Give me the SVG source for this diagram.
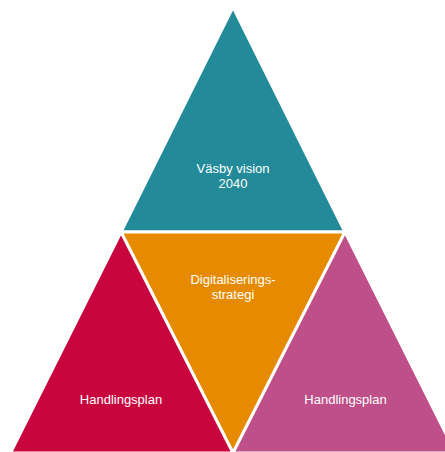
<svg xmlns="http://www.w3.org/2000/svg" width="445" height="452" viewBox="0 0 445 452">
<style>
.tri{stroke:#FFFFFF;stroke-width:3;stroke-linejoin:miter}
.lbl{font-family:"Liberation Sans",Arial,sans-serif;font-size:13px;fill:#FFFFFF;text-anchor:middle}
</style>
<rect x="0" y="0" width="445" height="452" fill="#FFFFFF"/>
<g id="vision">
<polygon class="tri" points="233,7 121,232 345,232" fill="#238A99"/>
<text class="lbl" x="233" y="173.3">Väsby vision</text>
<text class="lbl" x="233" y="188.3">2040</text>
</g>
<g id="strategi">
<polygon class="tri" points="121,232 345,232 233,453" fill="#E68A00"/>
<text class="lbl" x="233" y="283.5">Digitaliserings-</text>
<text class="lbl" x="233" y="298.5">strategi</text>
</g>
<g id="handlingsplan-left">
<polygon class="tri" points="121,232 233,453 10.5,453" fill="#C8053D"/>
<text class="lbl" x="121" y="404">Handlingsplan</text>
</g>
<g id="handlingsplan-right">
<polygon class="tri" points="345,232 455.5,453 233,453" fill="#BE4F88"/>
<text class="lbl" x="345.5" y="404">Handlingsplan</text>
</g>
</svg>
